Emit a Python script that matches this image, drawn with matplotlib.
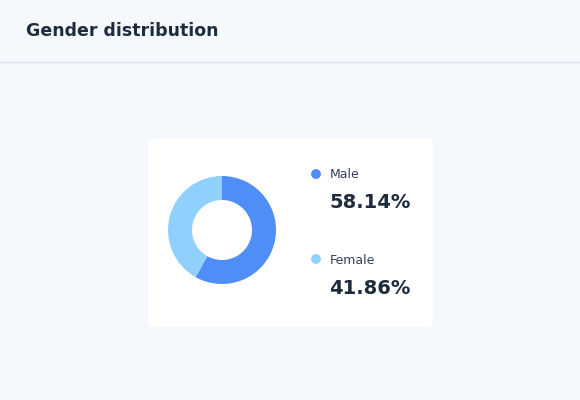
import matplotlib
matplotlib.use("Agg")
import matplotlib.pyplot as plt
from matplotlib.patches import FancyBboxPatch, Circle

labels = ["Male", "Female"]
shares = [58.14, 41.86]
colors = ["#4f8ef7", "#8fd0ff"]

W, H = 580, 400
fig = plt.figure(figsize=(W / 100, H / 100), dpi=100)
fig.patch.set_facecolor("#f5f8fc")

bg = fig.add_axes([0, 0, 1, 1])
bg.set_xlim(0, W)
bg.set_ylim(H, 0)
bg.axis("off")

bg.text(26, 31, "Gender distribution", fontsize=12.5, fontweight="bold",
        color="#1d2b3e", va="center", ha="left")
bg.plot([0, W], [62, 62], color="#d8dee8", lw=1)

card = FancyBboxPatch((148, 138), 285, 189, boxstyle="round,pad=0,rounding_size=5",
                      facecolor="white", edgecolor="none")
bg.add_patch(card)

# legend
ys = [174, 259]
for lab, val, c, y in zip(labels, shares, colors, ys):
    bg.add_patch(Circle((316, y), 4.2, color=c))
    bg.text(330, y + 1, lab, fontsize=9, color="#33415a", va="center")
    bg.text(329, y + 29, f"{val:.2f}%", fontsize=14, fontweight="bold",
            color="#1d2b3e", va="center")

# donut
cx, cy, r = 222, 230, 54
pax = fig.add_axes([(cx - r) / W, 1 - (cy + r) / H, 2 * r / W, 2 * r / H])
pax.pie(shares, colors=colors, startangle=90, counterclock=False,
        wedgeprops=dict(width=24 / 54, edgecolor="none"), radius=1)
pax.set_xlim(-1, 1)
pax.set_ylim(-1, 1)
pax.set_aspect("equal")

fig.savefig("out.png", dpi=100, facecolor=fig.get_facecolor())
